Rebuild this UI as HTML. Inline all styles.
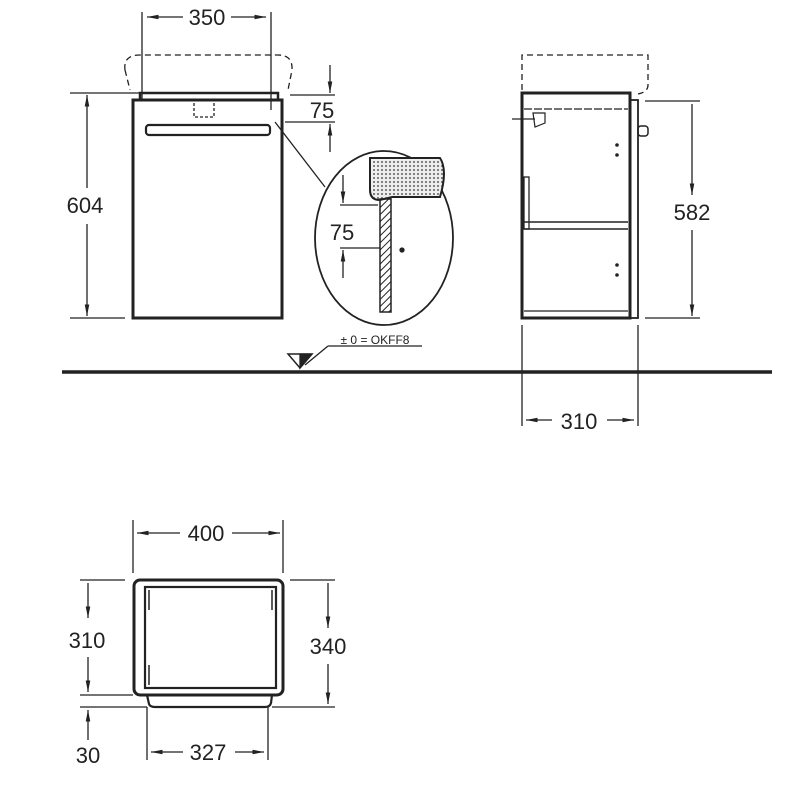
<!DOCTYPE html>
<html><head><style>body{margin:0;background:#fff}svg{display:block}text{font-family:"Liberation Sans",sans-serif;fill:#222}</style></head>
<body>
<svg width="800" height="800" viewBox="0 0 800 800" xmlns="http://www.w3.org/2000/svg">
<defs>
<marker id="a" viewBox="0 0 10 10" refX="10" refY="5" markerWidth="9" markerHeight="9" orient="auto-start-reverse"><path d="M0,3 L10,5 L0,7z" fill="#222"/></marker>
<pattern id="dots" width="4" height="4" patternUnits="userSpaceOnUse"><rect width="4" height="4" fill="#eee"/><circle cx="2" cy="2" r="0.9" fill="#333"/></pattern>
<pattern id="hatch" width="5" height="5" patternUnits="userSpaceOnUse" patternTransform="rotate(45)"><line x1="0" y1="0" x2="0" y2="5" stroke="#222" stroke-width="2"/></pattern>
</defs>
<g stroke="#222" fill="none" stroke-width="1.3">
<path d="M125,70 Q123,55 140,55 L278,55 Q293,55 292,70 L288,90" stroke-dasharray="6,4"/>
<path d="M125,70 L130,90" stroke-dasharray="6,4"/>
<rect x="140" y="93" width="138" height="7" stroke-width="2.5"/>
<rect x="133" y="100" width="149" height="218" stroke-width="3"/>
<rect x="146" y="125" width="124" height="10" rx="3" stroke-width="2.2"/>
<path d="M194,103 v14 h20 v-14" stroke-dasharray="3,2"/>
<line x1="142" y1="12" x2="142" y2="100"/><line x1="271" y1="12" x2="271" y2="110"/>
<line x1="147" y1="17" x2="183" y2="17" marker-start="url(#a)"/><line x1="231" y1="17" x2="266" y2="17" marker-end="url(#a)"/>
<line x1="70" y1="93" x2="140" y2="93"/><line x1="70" y1="318" x2="125" y2="318"/>
<line x1="87" y1="95" x2="87" y2="188" marker-start="url(#a)"/><line x1="87" y1="224" x2="87" y2="316" marker-end="url(#a)"/>
<line x1="290" y1="95" x2="335" y2="95"/><line x1="285" y1="122" x2="335" y2="122"/>
<line x1="330" y1="65" x2="330" y2="93" marker-end="url(#a)"/><line x1="330" y1="152" x2="330" y2="124" marker-end="url(#a)"/>
<line x1="275" y1="122" x2="325" y2="187"/>
<ellipse cx="384" cy="238" rx="69" ry="87" stroke-width="1.8"/>
<path d="M370,158 L440,158 Q448,170 440,197 L392,197 L380,200 Q370,200 370,190Z" fill="url(#dots)" stroke-width="2"/>
<rect x="380" y="199" width="11" height="113" fill="url(#hatch)" stroke-width="1.5"/>
<line x1="340" y1="205" x2="378" y2="205"/><line x1="340" y1="248" x2="380" y2="248"/>
<line x1="343" y1="175" x2="343" y2="203" marker-end="url(#a)"/><line x1="343" y1="278" x2="343" y2="250" marker-end="url(#a)"/>
<circle cx="402" cy="250" r="2" fill="#222"/>
<line x1="328" y1="346" x2="422" y2="346"/><line x1="328" y1="346" x2="305" y2="365"/>
<path d="M288,354 L312,354 L300,368Z" stroke-width="1.5"/><path d="M300,354 L312,354 L300,368Z" fill="#222"/>
<line x1="62" y1="372" x2="772" y2="372" stroke-width="3.5"/>
<path d="M522,90 L522,55 L648,55 L648,85 Q648,92 638,94" stroke-dasharray="6,4"/>
<rect x="522" y="93" width="108" height="225" stroke-width="3"/>
<rect x="630" y="100" width="8" height="218" stroke-width="1.8"/>
<rect x="638" y="126" width="10" height="10" rx="3" stroke-width="1.5"/>
<line x1="524" y1="109" x2="628" y2="109" stroke-dasharray="8,2"/>
<line x1="524" y1="222" x2="628" y2="222" stroke-width="1.5"/><line x1="524" y1="229" x2="628" y2="229" stroke-width="1.5"/>
<line x1="524" y1="311" x2="628" y2="311"/>
<rect x="524" y="177" width="5" height="52"/>
<path d="M533,113 l12,0 l0,10 l-10,4 z" stroke-width="1.2"/>
<line x1="512" y1="119" x2="535" y2="119"/>
<g fill="#222" stroke="none"><circle cx="617" cy="145" r="1.8"/><circle cx="617" cy="155" r="1.8"/><circle cx="617" cy="265" r="1.8"/><circle cx="617" cy="275" r="1.8"/></g>
<line x1="645" y1="101" x2="700" y2="101"/><line x1="645" y1="318" x2="700" y2="318"/>
<line x1="692" y1="104" x2="692" y2="195" marker-end="url(#a)"/><line x1="692" y1="230" x2="692" y2="316" marker-end="url(#a)"/>
<line x1="522" y1="325" x2="522" y2="426"/><line x1="638" y1="325" x2="638" y2="426"/>
<line x1="526" y1="420" x2="552" y2="420" marker-start="url(#a)"/><line x1="607" y1="420" x2="634" y2="420" marker-end="url(#a)"/>
<line x1="133" y1="520" x2="133" y2="573"/><line x1="283" y1="520" x2="283" y2="573"/>
<line x1="137" y1="533" x2="180" y2="533" marker-start="url(#a)"/><line x1="232" y1="533" x2="280" y2="533" marker-end="url(#a)"/>
<rect x="134" y="580" width="149" height="115" rx="6" stroke-width="3"/>
<rect x="145" y="587" width="131" height="101" stroke-width="2.2"/>
<path d="M147,695 L149,704 Q150,707 155,707 L265,707 Q270,707 271,703 L272,695" stroke-width="2.2"/>
<line x1="149" y1="590" x2="149" y2="610" stroke-width="1.5"/><line x1="272" y1="590" x2="272" y2="610" stroke-width="1.5"/><line x1="149" y1="665" x2="149" y2="685" stroke-width="1.5"/>
<line x1="80" y1="580" x2="125" y2="580"/><line x1="80" y1="695" x2="133" y2="695"/>
<line x1="88" y1="583" x2="88" y2="618" marker-end="url(#a)"/><line x1="88" y1="657" x2="88" y2="692" marker-end="url(#a)"/>
<line x1="290" y1="580" x2="335" y2="580"/><line x1="272" y1="707" x2="335" y2="707"/>
<line x1="328" y1="583" x2="328" y2="628" marker-end="url(#a)"/><line x1="328" y1="664" x2="328" y2="704" marker-end="url(#a)"/>
<line x1="80" y1="707" x2="147" y2="707"/>
<line x1="88" y1="740" x2="88" y2="710" marker-end="url(#a)"/>
<line x1="147" y1="707" x2="147" y2="760"/><line x1="268" y1="707" x2="268" y2="760"/>
<line x1="151" y1="752" x2="183" y2="752" marker-start="url(#a)"/><line x1="235" y1="752" x2="264" y2="752" marker-end="url(#a)"/>
</g>
<g font-size="22" text-anchor="middle" stroke="none">
<text x="207" y="25">350</text><text x="85" y="213">604</text><text x="322" y="118">75</text>
<text x="342" y="240">75</text>
<text x="692" y="220">582</text><text x="579" y="429">310</text>
<text x="206" y="541">400</text><text x="87" y="648">310</text><text x="328" y="654">340</text>
<text x="88" y="763">30</text><text x="208" y="760">327</text>
<text x="375" y="344" font-size="12">± 0 = OKFF8</text>
</g>
</svg>
</body></html>
